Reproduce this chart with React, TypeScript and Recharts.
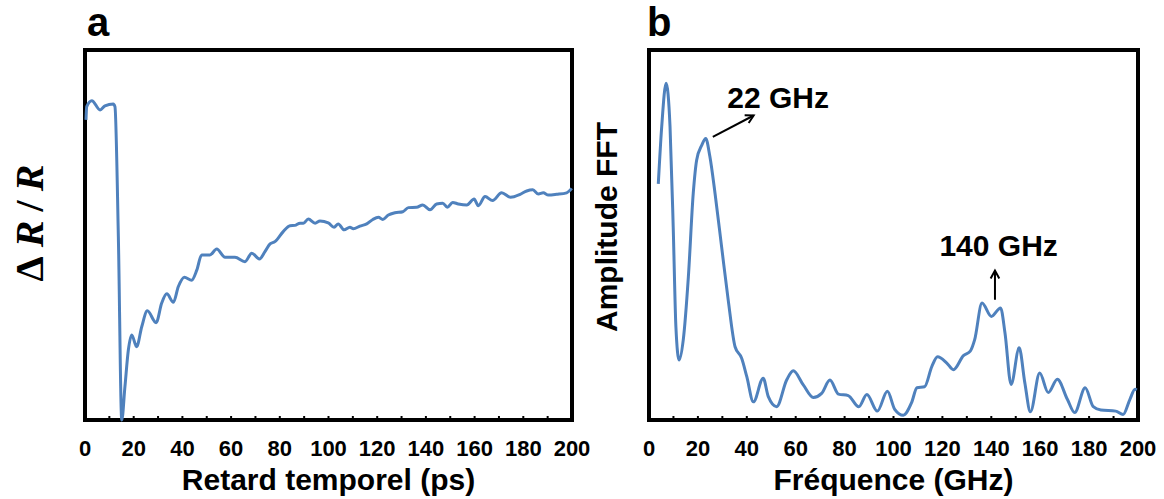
import React from "react"
import { LineChart, Line, XAxis, YAxis, ReferenceArea, ReferenceLine, ReferenceDot } from "recharts"

// panel a : pump-probe trace (arbitrary units, 0 = bottom of frame, 100 = top)
const delayPs = [
  0.4, 0.7, 2.8, 6.2, 8.2, 11.6, 12.3, 13.7, 15.1, 16.4, 17.8, 19.2, 21.2, 23.3, 25.6, 29.2, 31.5, 33.6,
  36.3, 38.3, 40.8, 43.8, 45.9, 47.9, 51.3, 54.1, 57.5, 61.6, 65.7, 68.5, 71.6, 73.9, 76.0, 78.0, 81.4,
  84.2, 86.2, 88.3, 89.7, 91.7, 94.5, 96.5, 99.9, 102.3, 104.0, 106.4, 108.8, 110.2, 112.9, 115.7, 118.2,
  120.5, 122.3, 124.6, 127.3, 130.5, 132.8, 136.2, 138.7, 141.7, 144.4, 146.9, 148.8, 151.0, 153.3, 156.8,
  159.8, 161.5, 164.3, 167.4, 171.1, 174.8, 178.7, 181.4, 183.9, 186.2, 188.2, 190.3, 193.7, 197.8, 199.9,
]
const reflectivity = [
  81.1, 84.7, 86.3, 83.8, 84.9, 85.4, 84.7, 49.5, 0, 9.0, 18.9, 23.0, 19.8, 25.2, 29.5, 26.3, 31.6, 34.1,
  31.8, 36.0, 38.6, 37.8, 40.5, 44.6, 44.6, 46.2, 44.0, 44.0, 42.8, 45.1, 43.5, 45.5, 47.6, 48.2, 50.9,
  52.5, 52.6, 53.2, 53.2, 54.3, 53.2, 53.8, 53.3, 52.1, 53.0, 51.4, 52.1, 51.7, 52.4, 53.0, 54.2,
  54.8, 54.2, 55.4, 56.0, 56.3, 57.4, 57.5, 58.1, 56.8, 58.4, 58.6, 57.5, 58.8, 58.4, 58.1,
  59.7, 57.9, 60.4, 59.3, 61.4, 60.2, 61.0, 61.9, 62.2, 61.1, 61.4, 60.8, 61.0, 61.4, 62.6,
]

// panel b : FFT amplitude spectrum
const freqGHz = [
  3.8, 5.2, 7.0, 8.6, 9.9, 11.0, 12.3, 14.0, 16.1, 18.1, 19.5, 21.6, 23.2, 24.9, 27.0, 29.7, 32.4, 35.2,
  37.9, 40.0, 42.7, 46.7, 48.8, 52.2, 56.3, 59.0, 63.1, 67.2, 70.6, 74.0, 77.5, 81.5, 85.8, 89.1, 93.4,
  97.5, 100.5, 104.0, 107.4, 109.6, 112.7, 115.7, 118.0, 121.8, 124.5, 128.6, 131.4, 133.2, 136.2, 140.0,
  143.8, 145.6, 148.1, 151.4, 153.7, 156.0, 159.8, 163.3, 167.0, 171.1, 174.1, 178.4, 181.7, 184.8, 190.9,
  193.9, 196.7, 198.8, 199.5,
]
const fftAmp = [
  63.8, 79.3, 91.0, 79.3, 52.2, 25.2, 16.2, 21.6, 38.7, 61.3, 70.3, 74.3, 76.1, 71.2, 61.3, 46.8, 32.4, 19.8,
  16.7, 11.7, 4.9, 11.3, 6.3, 3.6, 10.8, 13.3, 9.5, 6.1, 7.2, 10.8, 7.0, 6.6, 3.6, 6.9, 2.4,
  7.8, 2.9, 1.3, 4.7, 8.7, 9.0, 14.5, 17.1, 15.4, 13.6, 17.4, 18.6, 21.7, 31.6, 28.0,
  30.3, 23.5, 9.6, 19.5, 10.1, 2.2, 12.7, 7.4, 11.0, 5.6, 2.0, 8.7, 3.6, 2.7, 2.4,
  1.5, 5.6, 8.3, 8.1,
]

const xTicks = [0, 10, 20, 30, 40, 50, 60, 70, 80, 90, 100, 110, 120, 130, 140, 150, 160, 170, 180, 190, 200]

const dataA = delayPs.map((t, i) => ({ t, v: reflectivity[i] }))
const dataB = freqGHz.map((t, i) => ({ t, v: fftAmp[i] }))

const SANS = '"Liberation Sans", Arial, Helvetica, sans-serif'
const BLUE = "#4F81BD"

function Arrow(props: any) {
  const { x1, y1, x2, y2 } = props
  const ang = Math.atan2(y2 - y1, x2 - x1)
  const len = 9
  const spread = 0.5
  const ax = x2 - len * Math.cos(ang - spread)
  const ay = y2 - len * Math.sin(ang - spread)
  const bx = x2 - len * Math.cos(ang + spread)
  const by = y2 - len * Math.sin(ang + spread)
  return (
    <g>
      <line x1={x1} y1={y1} x2={x2} y2={y2} stroke="#000" strokeWidth={2} />
      <polyline points={`${ax},${ay} ${x2},${y2} ${bx},${by}`} fill="none" stroke="#000" strokeWidth={2} />
    </g>
  )
}

function note(text: string) {
  return (p: any) => (
    <text x={p.cx} y={p.cy} textAnchor="middle" fontFamily={SANS} fontWeight={700} fontSize={30} fill="#000">
      {text}
    </text>
  )
}

function Panel({ data, left, width, margin, children }: any) {
  return (
    <div style={{ position: "absolute", left, top: 0 }}>
      <LineChart width={width} height={499} data={data} margin={margin}>
        <XAxis
          dataKey="t"
          type="number"
          domain={[0, 200]}
          ticks={xTicks}
          interval={0}
          height={30}
          axisLine={false}
          tickSize={-4}
          tickMargin={24}
          tickLine={{ stroke: "#000", strokeWidth: 2 }}
          tickFormatter={(v: number) => (v % 20 === 0 ? String(v) : "")}
          tick={{ fill: "#000", fontSize: 22, fontWeight: 700, fontFamily: SANS }}
        />
        <YAxis hide type="number" domain={[0, 100]} />
        <ReferenceArea x1={0} x2={200} y1={0} y2={100} fill="none" fillOpacity={0} stroke="#000" strokeWidth={4} />
        <Line type="monotone" dataKey="v" stroke={BLUE} strokeWidth={3} dot={false} isAnimationActive={false} />
        {children}
      </LineChart>
    </div>
  )
}

export default function App() {
  return (
    <div style={{ position: "absolute", left: 0, top: 0, width: 1164, height: 499, background: "#fff", overflow: "hidden" }}>
      <Panel data={dataA} left={0} width={590} margin={{ top: 50, left: 85, right: 18, bottom: 49 }} />
      <Panel data={dataB} left={580} width={584} margin={{ top: 50, left: 69, right: 26, bottom: 49 }}>
        <ReferenceLine segment={[{ x: 26.1, y: 76.5 }, { x: 42.8, y: 82.3 }]} shape={Arrow} />
        <ReferenceDot x={52.8} y={84.2} r={0} shape={note("22 GHz")} />
        <ReferenceLine segment={[{ x: 141.5, y: 32.5 }, { x: 141.5, y: 40.4 }]} shape={Arrow} />
        <ReferenceDot x={143} y={44.2} r={0} shape={note("140 GHz")} />
      </Panel>
      <svg width={1164} height={499} style={{ position: "absolute", left: 0, top: 0, pointerEvents: "none" }}>
        <g fontFamily={SANS} fontWeight={700} fill="#000">
          <text x={87} y={36} fontSize={40}>a</text>
          <text x={647} y={36} fontSize={40}>b</text>
          <text x={328.5} y={490} fontSize={30} textAnchor="middle">Retard temporel (ps)</text>
          <text x={893.5} y={490} fontSize={30} textAnchor="middle">Fréquence (GHz)</text>
          <text transform="translate(617,227) rotate(-90)" fontSize={30} textAnchor="middle">Amplitude FFT</text>
        </g>
        <text
          transform="translate(43,223) rotate(-90)"
          fontFamily='"Liberation Serif", "Times New Roman", serif'
          fontWeight={700}
          fontSize={40}
          textAnchor="middle"
          textLength={117}
          lengthAdjust="spacing"
          fill="#000"
        >
          Δ<tspan fontStyle="italic">R</tspan>/<tspan fontStyle="italic">R</tspan>
        </text>
      </svg>
    </div>
  )
}
